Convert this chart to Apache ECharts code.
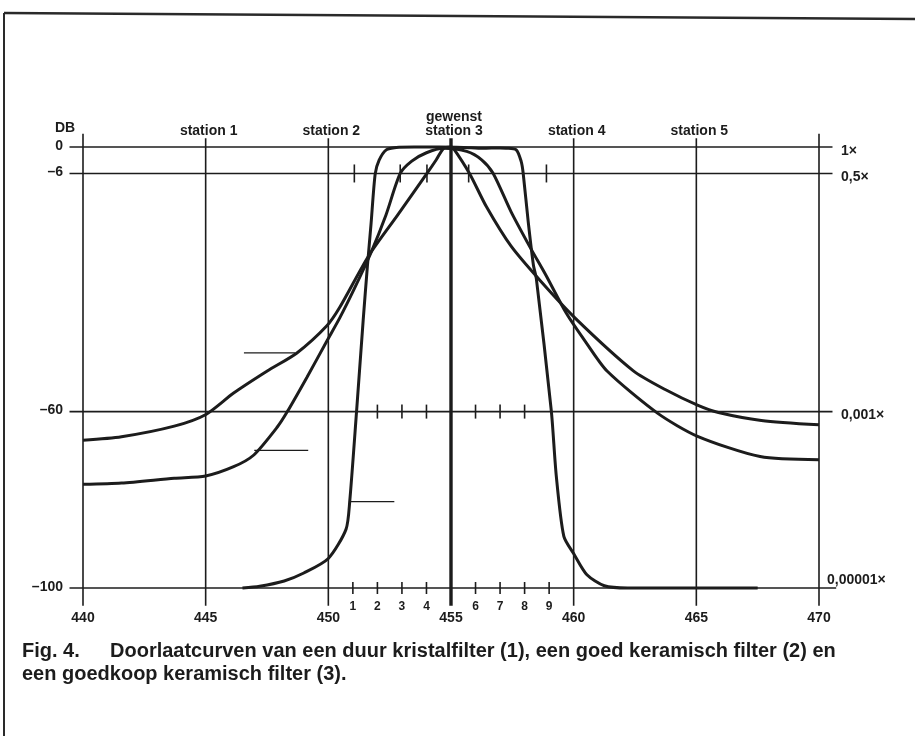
<!DOCTYPE html>
<html>
<head>
<meta charset="utf-8">
<title>Fig. 4 Doorlaatcurven</title>
<script src="https://cdn.jsdelivr.net/npm/echarts@6.0.0/dist/echarts.min.js"></script>
<style>
html, body { margin: 0; padding: 0; background: #fff; }
#chart { width: 915px; height: 736px; }
</style>
</head>
<body>
<div id="chart"></div>
<script>
// frequency axis (kHz) and level axis (dB)
const freqTicks = [440, 445, 450, 455, 460, 465, 470];
const dbLevels = [0, -6, -60, -100];
const dbLabels = ['0', '–6', '–60', '–100'];
const gainLabels = ['1×', '0,5×', '0,001×', '0,00001×'];
const stationFreqs = [445, 450, 455, 460, 465];
const stationNames = ['station 1', 'station 2', 'gewenst\nstation 3', 'station 4', 'station 5'];
const subFreqs = [451, 452, 453, 454, 456, 457, 458, 459];
const subLabels = ['1', '2', '3', '4', '6', '7', '8', '9'];
const marks6 = [451.06, 452.93, 454.02, 455.72, 458.89];
const marks60 = [452, 453, 454, 456, 457, 458];
// [from kHz, to kHz, dB]
const leaderLines = [[446.56, 448.64, -46.7], [446.98, 449.18, -68.8], [450.85, 452.69, -80.4]];

// curves: [kHz, dB]
const crystalFilter = [
  [446.5, -100], [447.2, -99.6], [448.2, -98.4], [449.0, -96.6], [450.0, -93.3], [450.72, -86.7],
  [450.87, -80.5], [451.15, -60.0], [451.42, -39.3], [451.59, -27.2], [451.74, -17.5], [451.91, -6.1],
  [452.07, -3.0], [452.36, -0.65], [452.77, -0.1], [453.5, 0], [454.5, 0], [455.5, -0.1], [456.3, -0.3],
  [457.0, -0.2], [457.25, -0.26], [457.66, -0.64], [457.86, -3.25], [457.94, -5.84], [458.15, -17.1],
  [458.36, -26.8], [458.48, -29.9], [459.09, -59.9], [459.29, -74.5], [459.6, -88.3], [460.01, -92.3],
  [460.54, -97.0], [461.25, -99.5], [462.2, -100], [467.5, -100]
];
const goodCeramic = [
  [440, -76.5], [441.57, -76.2], [443.72, -75.1], [445.0, -74.6], [446.14, -72.5], [446.95, -69.9],
  [447.92, -63.5], [448.33, -60.0], [449.13, -52.2], [449.93, -44.1], [450.46, -38.8], [451.07, -32.0],
  [451.72, -24.2], [452.35, -15.4], [452.93, -6.0], [453.4, -3.2], [454.0, -1.3], [454.7, -0.3],
  [455.64, -1.0], [456.25, -2.9], [456.72, -6.0], [457.45, -14.7], [458.26, -23.1], [458.87, -29.1],
  [459.69, -37.6], [460.5, -44.3], [461.36, -50.8], [463.43, -60.4], [465.05, -65.6], [467.6, -70.2],
  [470, -70.9]
];
const cheapCeramic = [
  [440, -66.5], [441.57, -65.7], [443.72, -63.3], [445.01, -60.65], [446.14, -55.8], [447.51, -50.8],
  [448.72, -46.7], [449.93, -40.6], [450.46, -36.4], [451.64, -24.7], [452.83, -15.4], [454.02, -6.0],
  [454.4, -2.9], [454.7, -0.3], [455.0, 0], [455.1, -0.3], [455.76, -6.05], [456.44, -13.5],
  [457.45, -22.5], [458.65, -30.4], [460.06, -38.8], [462.42, -50.7], [463.73, -55.0], [465.07, -58.6],
  [465.9, -60.2], [467.65, -62.0], [470, -63.0]
];

const ink = '#1c1c1c';
const labelFont = 'bold 14px "Liberation Sans", Arial, sans-serif';
const smallFont = 'bold 12px "Liberation Sans", Arial, sans-serif';
const captionFont = 'bold 20px "Liberation Sans", Arial, sans-serif';

const seg = (a, b, w) => ({
  type: 'line',
  shape: { x1: a[0], y1: a[1], x2: b[0], y2: b[1] },
  style: { stroke: ink, lineWidth: w }
});

const custom = (data, renderItem, z) => ({
  type: 'custom', data, renderItem, clip: false, silent: true, z: z || 2
});

const tickSeries = (freqs, db, half) => custom(freqs.map(f => [f, db]), (p, api) => {
  const c = api.coord([api.value(0), api.value(1)]);
  return seg([c[0], c[1] - half], [c[0], c[1] + half], 1.6);
});

const labelSeries = (rows, texts, dx, dy, align, vAlign, font) => custom(rows, (p, api) => {
  const c = api.coord([api.value(0), api.value(1)]);
  return {
    type: 'text', x: c[0] + dx, y: c[1] + dy,
    style: { text: texts[p.dataIndex], font, fill: ink, align, verticalAlign: vAlign, lineHeight: 14 }
  };
}, 6);

const curve = (name, data) => ({
  type: 'line', name, data, showSymbol: false, smooth: 0.25, clip: false, silent: true, z: 4,
  lineStyle: { color: ink, width: 3 }
});

const chart = echarts.init(document.getElementById('chart'));
chart.setOption({
  animation: false,
  backgroundColor: '#ffffff',
  grid: { left: 83, right: 96, top: 147, bottom: 148 },
  xAxis: { type: 'value', min: 440, max: 470, show: false },
  yAxis: { type: 'value', min: -100, max: 0, show: false },
  graphic: [
    { type: 'line', shape: { x1: 4, y1: 13, x2: 915, y2: 19 }, style: { stroke: '#2a2a2a', lineWidth: 2.5 } },
    { type: 'line', shape: { x1: 4, y1: 13, x2: 4, y2: 736 }, style: { stroke: '#2a2a2a', lineWidth: 2 } },
    { type: 'text', left: 22, top: 641, scaleY: 1.05, style: { text: 'Fig. 4.', font: captionFont, fill: ink } },
    { type: 'text', left: 110, top: 641, scaleY: 1.05, style: { text: 'Doorlaatcurven van een duur kristalfilter (1), een goed keramisch filter (2) en', font: captionFont, fill: ink } },
    { type: 'text', left: 22, top: 664, scaleY: 1.05, style: { text: 'een goedkoop keramisch filter (3).', font: captionFont, fill: ink } }
  ],
  series: [
    custom(freqTicks.map(f => [f, 0]), (p, api) => {
      const f = api.value(0);
      const top = (f === 440 || f === 470) ? 3 : 2;
      return seg(api.coord([f, top]), api.coord([f, -104]), f === 455 ? 3.4 : 1.6);
    }),
    custom(dbLevels.map(d => [440, d]), (p, api) => {
      const d = api.value(1);
      return seg(api.coord([439.45, d]), api.coord([d === -100 ? 470.7 : 470.55, d]), 1.6);
    }),
    tickSeries(marks6, -6, 9),
    tickSeries(marks60, -60, 7),
    tickSeries(subFreqs, -100, 6),
    custom(leaderLines.map(r => [r[0], r[2], r[1]]), (p, api) =>
      seg(api.coord([api.value(0), api.value(1)]), api.coord([api.value(2), api.value(1)]), 1.2)),
    curve('Kristalfilter (1)', crystalFilter),
    curve('Goed keramisch filter (2)', goodCeramic),
    curve('Goedkoop keramisch filter (3)', cheapCeramic),
    labelSeries([[440, 0]], ['DB'], -28, -19, 'left', 'middle', labelFont),
    labelSeries(dbLevels.map(d => [440, d]), dbLabels, -20, -1, 'right', 'middle', labelFont),
    labelSeries(dbLevels.slice(0, 3).map(d => [470, d]), gainLabels.slice(0, 3), 22, 4, 'left', 'middle', labelFont),
    labelSeries([[470, -100]], gainLabels.slice(3), 8, -8, 'left', 'middle', labelFont),
    labelSeries(stationFreqs.map(f => [f, 0]), stationNames, 3, -9, 'center', 'bottom', labelFont),
    labelSeries(freqTicks.map(f => [f, -100]), freqTicks.map(String), 0, 30, 'center', 'middle', labelFont),
    labelSeries(subFreqs.map(f => [f, -100]), subLabels, 0, 19, 'center', 'middle', smallFont)
  ]
});
</script>
</body>
</html>
